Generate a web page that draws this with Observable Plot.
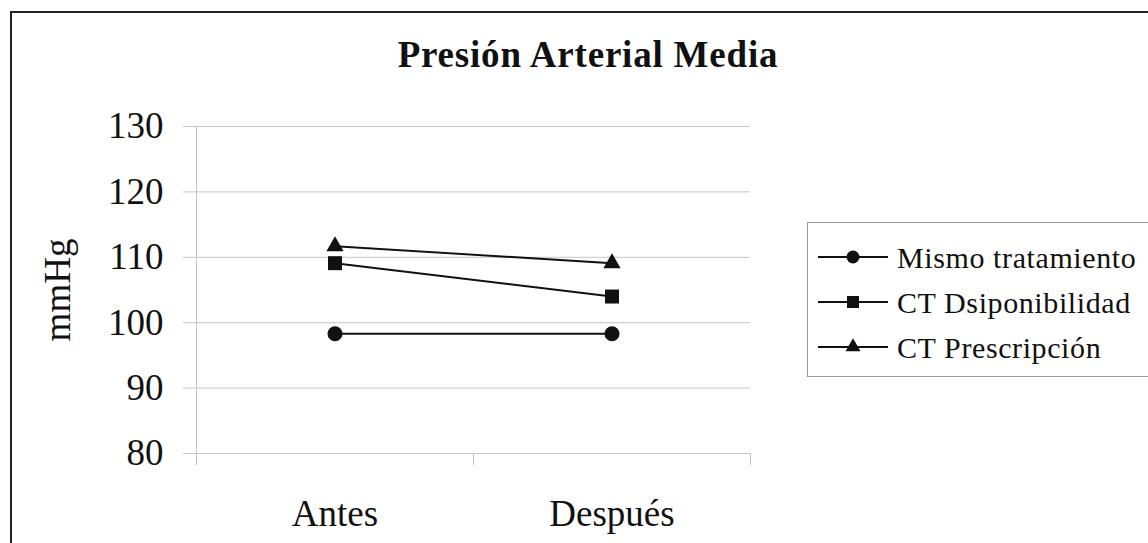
<!DOCTYPE html>
<html>
<head>
<meta charset="utf-8">
<script src="https://cdn.jsdelivr.net/npm/d3@7"></script>
<script src="https://cdn.jsdelivr.net/npm/@observablehq/plot@0.6"></script>
<style>
  html, body { margin: 0; padding: 0; background: #fff; }
  #page {
    position: relative; width: 1148px; height: 543px; overflow: hidden;
    font-family: "Liberation Serif", "Times New Roman", serif; color: #111;
  }
  #box {
    position: absolute; left: 10px; top: 11px; width: 1200px; height: 600px;
    border: 2px solid #222; box-sizing: border-box;
  }
  #chart { position: absolute; left: 0; top: 0; }
  #title {
    position: absolute; left: 0; width: 1176px; top: 36px;
    text-align: center; font-weight: bold; font-size: 37px; line-height: 37px;
    letter-spacing: 0.8px; white-space: nowrap;
  }
  #legend { position: absolute; left: 807px; top: 222px; }
</style>
</head>
<body>
<div id="page">
  <div id="box"></div>
  <div id="chart"></div>
  <div id="title">Presión Arterial Media</div>
  <div id="legend"></div>
</div>
<script>
// Mean arterial pressure (mmHg) before and after, by group
const categories = ["Antes", "Después"];
const seriesNames = ["Mismo tratamiento", "CT Dsiponibilidad", "CT Prescripción"];
const mismoTratamiento = [98.3, 98.3];
const ctDisponibilidad = [109.1, 104.0];
const ctPrescripcion = [111.7, 109.1];
const yTicks = [80, 90, 100, 110, 120, 130];

const seriesValues = [mismoTratamiento, ctDisponibilidad, ctPrescripcion];

// Long table: one row per (series, category); x sits in the middle of its slot
const rows = seriesValues.flatMap((vals, s) =>
  vals.map((v, i) => ({series: seriesNames[s], category: categories[i], pos: i + 0.5, value: v}))
);

const ink = "#111";
const rule = "#c6c6c6";
const symbolOf = {[seriesNames[0]]: "circle", [seriesNames[1]]: "square", [seriesNames[2]]: "triangle"};
const radiusOf = {circle: 7.5, square: 7.9, triangle: 6.4};

const chart = Plot.plot({
  width: 780,
  height: 543,
  marginLeft: 196,
  marginRight: 30,
  marginTop: 126,
  marginBottom: 90,
  style: {fontFamily: "'Liberation Serif', 'Times New Roman', serif", background: "none", color: ink},
  x: {type: "linear", domain: [0, categories.length]},
  y: {domain: [80, 130]},
  marks: [
    Plot.gridY(yTicks, {stroke: rule, strokeOpacity: 1}),
    Plot.ruleX([0], {stroke: rule}),
    Plot.axisY(yTicks, {
      stroke: rule, fill: ink, tickSize: 13, tickPadding: 20, fontSize: 37,
      label: "mmHg", labelAnchor: "center", labelArrow: "none", labelOffset: 153
    }),
    // category boundaries as tick marks
    Plot.axisX(d3.range(categories.length + 1), {stroke: rule, tickSize: 12, tickFormat: () => "", label: null}),
    // category names centred in each slot
    Plot.axisX(categories.map((c, i) => i + 0.5), {
      tickSize: 0, tickPadding: 46, fontSize: 37, fill: ink, label: null,
      tickFormat: (d) => categories[d - 0.5]
    }),
    Plot.line(rows, {x: "pos", y: "value", z: "series", stroke: ink, strokeWidth: 2}),
    ...seriesNames.map((name) =>
      Plot.dot(rows.filter((d) => d.series === name), {
        x: "pos", y: "value", symbol: symbolOf[name], r: radiusOf[symbolOf[name]], fill: ink, stroke: "none"
      })
    )
  ]
});
document.getElementById("chart").append(chart);

// Legend box
const legendSizes = {circle: 133, square: 144, triangle: 97};
const symbolShapes = {circle: d3.symbolCircle, square: d3.symbolSquare, triangle: d3.symbolTriangle};
const legend = d3.select("#legend").append("svg")
  .attr("width", 341).attr("height", 156)
  .style("font-family", "'Liberation Serif', 'Times New Roman', serif");
legend.append("rect")
  .attr("x", 0.5).attr("y", 0.5).attr("width", 400).attr("height", 154)
  .attr("fill", "#fff").attr("stroke", "#9a9a9a");
const item = legend.selectAll("g").data(seriesNames).join("g")
  .attr("transform", (d, i) => `translate(0, ${35 + i * 45})`);
item.append("line").attr("x1", 11).attr("x2", 81).attr("stroke", ink).attr("stroke-width", 2);
item.append("path")
  .attr("transform", "translate(46, 0)")
  .attr("d", (d) => d3.symbol(symbolShapes[symbolOf[d]], legendSizes[symbolOf[d]])())
  .attr("fill", ink);
item.append("text")
  .attr("x", 90).attr("dy", "0.35em")
  .attr("font-size", 30).attr("letter-spacing", 0.6).attr("fill", ink)
  .text((d) => d);
</script>
</body>
</html>
